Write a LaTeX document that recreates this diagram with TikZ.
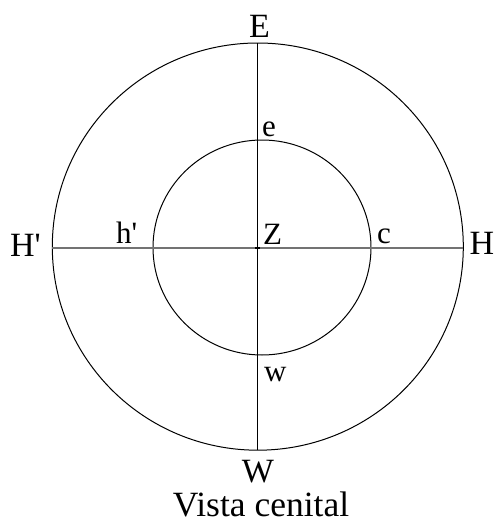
\documentclass[tikz,border=0pt]{standalone}
\usepackage{fontspec}
\setmainfont{Liberation Serif}[Ligatures=TeXOff]
\begin{document}
\begin{tikzpicture}[x=1pt,y=-1pt,
  big/.style={inner sep=0pt,font=\fontsize{34}{36}\selectfont},
  small/.style={inner sep=0pt,font=\fontsize{31}{33}\selectfont},
  title/.style={inner sep=0pt,font=\fontsize{35.5}{38}\selectfont},
  ring/.style={draw=black,line width=1pt},
  axisv/.style={draw=black,line width=1pt},
  axish/.style={draw=black!55,line width=1.7pt}]
\useasboundingbox (0,0) rectangle (494,522);
% circles
\draw[ring] (257.8,246.6) ellipse [x radius=205.5, y radius=203.6];
\draw[ring] (262,247.5) ellipse [x radius=109, y radius=107.5];
% axis end points
\coordinate (top) at (257.5,43);
\coordinate (bot) at (257.5,450);
\coordinate (lft) at (52.3,247.7);
\coordinate (rgt) at (463.3,247.7);
\coordinate (cen) at (257.5,247.7);
\draw[axish] (lft) -- (rgt);
\draw[axisv] (top) -- (bot);
\fill (cen) ++(-2.5,-1.2) rectangle ++(5,2.4);
% labels
\node[big,anchor=base] (E) at (259.5,37) {E};
\node[big,anchor=base] (W) at (258,482) {W};
\node[big,anchor=base west] (Hp) at (10,256) {H'};
\node[big,anchor=base west] (H) at (469.5,254) {H};
\node[small,anchor=base west] (hp) at (116,243) {h'};
\node[small,anchor=base west] (Z) at (263,244) {Z};
\node[small,anchor=base west] (c) at (377,243) {c};
\node[small,anchor=base west] (e) at (262,136) {e};
\node[small,anchor=base west] (w) at (264,381) {w};
\node[title,anchor=base] (T) at (261,516) {Vista cenital};
\end{tikzpicture}
\end{document}
